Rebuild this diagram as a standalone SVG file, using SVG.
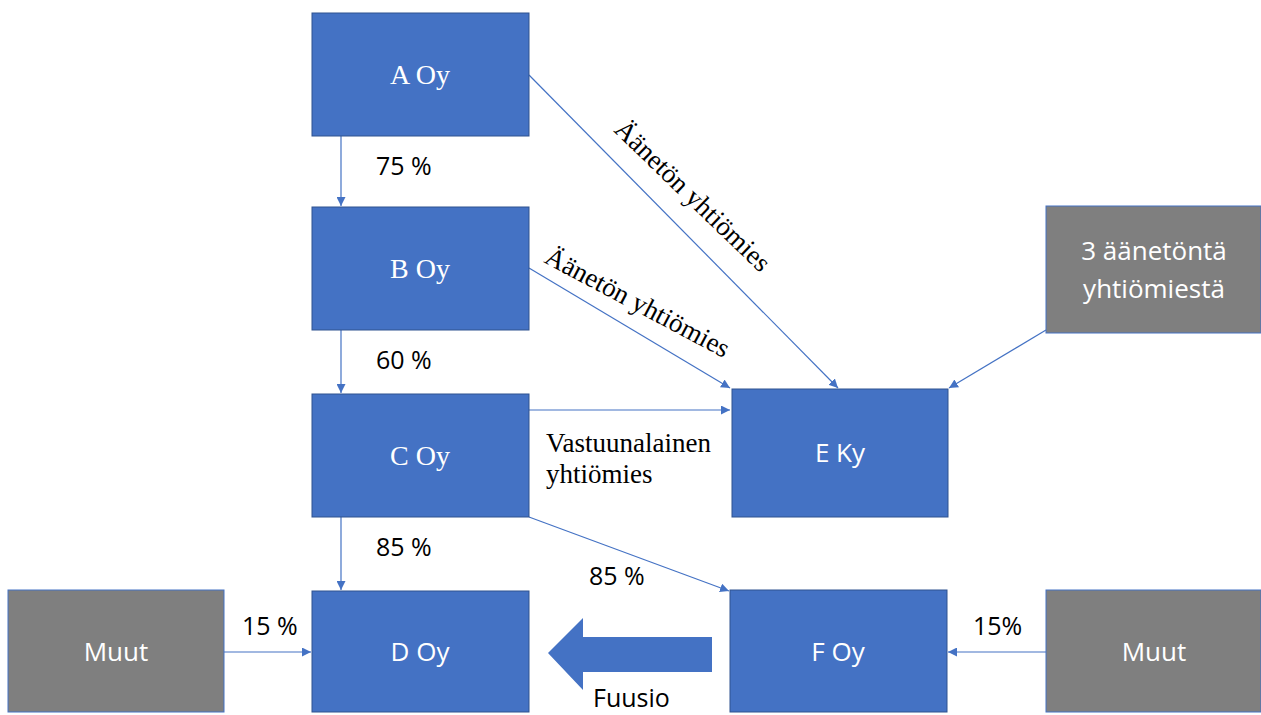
<svg xmlns="http://www.w3.org/2000/svg" width="1261" height="715" viewBox="0 0 1261 715">
<style>
.b{fill:#4472C4;stroke:#2F528F;stroke-width:1}
.g{fill:#7F7F7F;stroke:#4472C4;stroke-width:1}
.ts{font-family:"Liberation Serif",serif;fill:#fff;font-size:28px;text-anchor:middle}
.tw{font-family:"Open Sans","Liberation Sans",sans-serif;fill:#fff;font-size:26px;text-anchor:middle}
.lab{font-family:"Open Sans","Liberation Sans",sans-serif;fill:#000;font-size:25px}
.ser{font-family:"Liberation Serif",serif;fill:#000;font-size:27px}
.c{stroke:#4472C4;stroke-width:1.2;fill:none;marker-end:url(#ah)}
</style>
<defs>
<marker id="ah" viewBox="0 0 10 10" refX="10" refY="5" markerWidth="9" markerHeight="9" markerUnits="userSpaceOnUse" orient="auto">
<path d="M0,0 L10,5 L0,10 z" fill="#4472C4"/>
</marker>
</defs>
<rect width="1261" height="715" fill="#fff"/>
<g id="connectors">
<line class="c" x1="341" y1="136" x2="341" y2="206"/>
<line class="c" x1="341" y1="330" x2="341" y2="393"/>
<line class="c" x1="341" y1="517" x2="341" y2="590"/>
<line class="c" x1="529" y1="75" x2="838" y2="388"/>
<line class="c" x1="529" y1="268" x2="730" y2="388"/>
<line class="c" x1="529" y1="410" x2="730" y2="410"/>
<line class="c" x1="1046" y1="330" x2="949" y2="388"/>
<line class="c" x1="529" y1="517" x2="729" y2="591"/>
<line class="c" x1="224" y1="652" x2="311" y2="652"/>
<line class="c" x1="1046" y1="652" x2="948" y2="652"/>
<text class="lab" x="376" y="175">75 %</text>
<text class="lab" x="376" y="369">60 %</text>
<text class="lab" x="376" y="556">85 %</text>
<text class="lab" x="589" y="585">85 %</text>
<text class="lab" x="242" y="635">15 %</text>
<text class="lab" x="973" y="635">15%</text>
<text class="ser" font-size="26" transform="translate(613,131) rotate(44)">Äänetön yhtiömies</text>
<text class="ser" font-size="26" transform="translate(543,262) rotate(28)">Äänetön yhtiömies</text>
<text class="ser" x="546" y="452">Vastuunalainen</text>
<text class="ser" x="546" y="483">yhtiömies</text>
</g>
<g id="fuusio">
<path d="M548,653 L583,618 L583,637 L712,637 L712,672 L583,672 L583,690 Z" fill="#4472C4"/>
<text class="lab" x="593" y="707" font-size="27">Fuusio</text>
</g>
<g id="nodeA"><rect class="b" x="312" y="13" width="217" height="123"/><text class="ts" x="420" y="84">A Oy</text></g>
<g id="nodeB"><rect class="b" x="312" y="207" width="217" height="123"/><text class="ts" x="420" y="278">B Oy</text></g>
<g id="nodeC"><rect class="b" x="312" y="394" width="217" height="123"/><text class="ts" x="420" y="465">C Oy</text></g>
<g id="nodeD"><rect class="b" x="312" y="591" width="217" height="121"/><text class="tw" x="420" y="661">D Oy</text></g>
<g id="nodeE"><rect class="b" x="732" y="389" width="216" height="128"/><text class="tw" x="840" y="462">E Ky</text></g>
<g id="nodeF"><rect class="b" x="730" y="590" width="217" height="122"/><text class="tw" x="838" y="661">F Oy</text></g>
<g id="muut1"><rect class="g" x="8" y="590" width="216" height="122"/><text class="tw" x="116" y="661">Muut</text></g>
<g id="muut2"><rect class="g" x="1046" y="590" width="215" height="122"/><text class="tw" x="1154" y="661">Muut</text></g>
<g id="silent"><rect class="g" x="1046" y="206" width="215" height="127"/><text class="tw" x="1154" y="260">3 äänetöntä</text><text class="tw" x="1154" y="298">yhtiömiestä</text></g>
</svg>
